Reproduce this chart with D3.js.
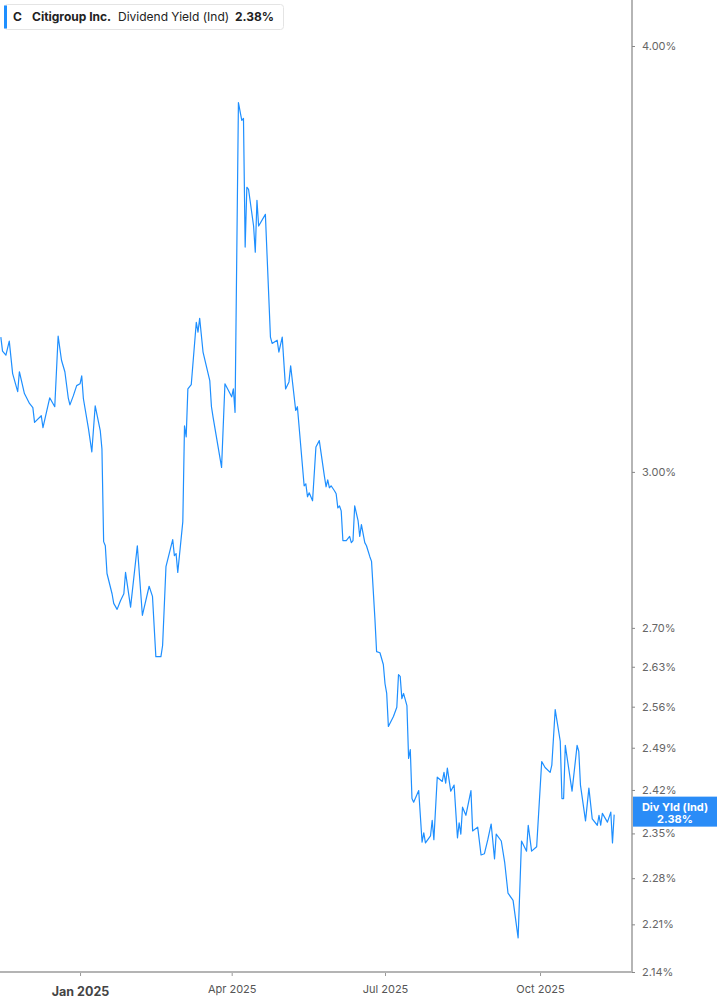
<!DOCTYPE html>
<html>
<head>
<meta charset="utf-8">
<script src="https://cdn.jsdelivr.net/npm/d3@7"></script>
<style>
body { margin:0; background:#fff; font-family: Inter, "Noto Sans", sans-serif; }
</style>
</head>
<body>
<div id="chart"></div>
<script>
// dates (trading days)
var dates = [
"2024-11-15","2024-11-16","2024-11-18","2024-11-20","2024-11-22","2024-11-25","2024-11-26","2024-11-29",
"2024-12-02","2024-12-04","2024-12-05","2024-12-09","2024-12-10","2024-12-14","2024-12-17","2024-12-19",
"2024-12-21","2024-12-23","2024-12-25","2024-12-26","2024-12-28","2024-12-30","2025-01-01","2025-01-02",
"2025-01-03","2025-01-06","2025-01-08","2025-01-10","2025-01-13","2025-01-14","2025-01-15","2025-01-16",
"2025-01-17","2025-01-20","2025-01-21","2025-01-23","2025-01-25","2025-01-27","2025-01-28","2025-01-31",
"2025-02-04","2025-02-07","2025-02-11","2025-02-13","2025-02-15","2025-02-18","2025-02-19","2025-02-21",
"2025-02-25","2025-02-26","2025-02-27","2025-02-28","2025-03-03","2025-03-04","2025-03-05","2025-03-06",
"2025-03-08","2025-03-11","2025-03-12","2025-03-13","2025-03-15","2025-03-19","2025-03-20","2025-03-21",
"2025-03-26","2025-03-28","2025-04-01","2025-04-02","2025-04-03","2025-04-05","2025-04-07","2025-04-08",
"2025-04-09","2025-04-10","2025-04-11","2025-04-14","2025-04-15","2025-04-16","2025-04-17","2025-04-21",
"2025-04-24","2025-04-25","2025-04-28","2025-04-29","2025-05-01","2025-05-03","2025-05-05","2025-05-06",
"2025-05-09","2025-05-10","2025-05-14","2025-05-15","2025-05-16","2025-05-17","2025-05-19","2025-05-21",
"2025-05-23","2025-05-26","2025-05-27","2025-05-28","2025-05-29","2025-05-30","2025-06-01","2025-06-02",
"2025-06-03","2025-06-04","2025-06-05","2025-06-06","2025-06-08","2025-06-10","2025-06-11","2025-06-12",
"2025-06-13","2025-06-15","2025-06-16","2025-06-17","2025-06-19","2025-06-20","2025-06-22","2025-06-23",
"2025-06-25","2025-06-26","2025-06-28","2025-06-30","2025-07-01","2025-07-02","2025-07-03","2025-07-06",
"2025-07-08","2025-07-09","2025-07-10","2025-07-11","2025-07-12","2025-07-14","2025-07-15","2025-07-16",
"2025-07-17","2025-07-18","2025-07-21","2025-07-23","2025-07-24","2025-07-25","2025-07-28","2025-07-29",
"2025-07-30","2025-08-01","2025-08-04","2025-08-05","2025-08-06","2025-08-07","2025-08-09","2025-08-11",
"2025-08-13","2025-08-14","2025-08-15","2025-08-16","2025-08-18","2025-08-21","2025-08-22","2025-08-25",
"2025-08-27","2025-08-29","2025-08-31","2025-09-02","2025-09-04","2025-09-05","2025-09-08","2025-09-10",
"2025-09-12","2025-09-15","2025-09-18","2025-09-20","2025-09-23","2025-09-24","2025-09-26","2025-09-29",
"2025-10-02","2025-10-04","2025-10-07","2025-10-08","2025-10-10","2025-10-13","2025-10-14","2025-10-15",
"2025-10-16","2025-10-20","2025-10-23","2025-10-24","2025-10-25","2025-10-28","2025-10-30","2025-11-01",
"2025-11-04","2025-11-05","2025-11-06","2025-11-07","2025-11-10","2025-11-12","2025-11-13","2025-11-14"
];

// dividend yield (%)
var yields = [
3.286,3.255,3.246,3.277,3.206,3.167,3.210,3.163,
3.142,3.133,3.102,3.116,3.091,3.154,3.135,3.288,
3.235,3.210,3.154,3.139,3.158,3.180,3.184,3.201,
3.152,3.089,3.041,3.137,3.085,3.047,2.862,2.854,
2.801,2.763,2.745,2.734,2.750,2.763,2.803,2.738,
2.854,2.723,2.777,2.758,2.648,2.648,2.668,2.814,
2.866,2.835,2.839,2.803,2.901,3.095,3.072,3.173,
3.182,3.319,3.297,3.328,3.253,3.191,3.135,3.112,
3.009,3.184,3.156,3.173,3.123,3.850,3.804,3.809,
3.492,3.636,3.631,3.542,3.480,3.604,3.542,3.570,
3.286,3.272,3.279,3.253,3.286,3.173,3.188,3.223,
3.127,3.135,2.972,2.976,2.950,2.958,2.942,3.051,
3.064,2.992,2.970,2.984,2.968,2.972,2.962,2.956,
2.928,2.932,2.922,2.864,2.864,2.872,2.860,2.864,
2.932,2.903,2.872,2.895,2.860,2.854,2.833,2.824,
2.717,2.657,2.655,2.634,2.600,2.583,2.526,2.543,
2.559,2.616,2.613,2.574,2.583,2.562,2.472,2.487,
2.406,2.400,2.419,2.336,2.351,2.335,2.346,2.371,
2.340,2.441,2.434,2.449,2.431,2.456,2.418,2.428,
2.343,2.367,2.349,2.392,2.379,2.419,2.354,2.360,
2.316,2.318,2.340,2.365,2.310,2.349,2.338,2.305,
2.257,2.246,2.190,2.338,2.322,2.363,2.322,2.329,
2.467,2.457,2.449,2.461,2.555,2.501,2.406,2.406,
2.494,2.418,2.494,2.484,2.428,2.370,2.423,2.373,
2.363,2.379,2.363,2.382,2.368,2.384,2.335,2.380
];

var yTicks = [4.00, 3.00, 2.70, 2.63, 2.56, 2.49, 2.42, 2.35, 2.28, 2.21, 2.14];
var xTickDates = ["2025-01-01", "2025-04-01", "2025-07-01", "2025-10-01"];
var xTickLabels = ["Jan 2025", "Apr 2025", "Jul 2025", "Oct 2025"];
var xDomain = ["2024-11-14 12:00", "2025-11-24 14:00"];
var yDomain = [2.14, 4.00];

var ticker = "C";
var company = "Citigroup Inc.";
var metric = "Dividend Yield (Ind)";
var lastLabel = "Div Yld (Ind)";

var w = 717, h = 1005;
var plotRight = 632, plotBottom = 972;
var blue = "#1e8fff";

var parseDay = d3.timeParse("%Y-%m-%d");
var parseTime = d3.timeParse("%Y-%m-%d %H:%M");

var data = dates.map(function(d, i) {
   return { date: parseDay(d), value: yields[i] };
});

var x = d3.scaleTime()
   .domain(xDomain.map(parseTime))
   .range([0, plotRight]);

var y = d3.scaleLog()
   .domain(yDomain)
   .range([plotBottom, 46]);

var svg = d3.select("#chart").append("svg")
   .attr("width", w)
   .attr("height", h);

//right axis
svg.append("line")
   .attr("x1", plotRight).attr("x2", plotRight)
   .attr("y1", 0).attr("y2", plotBottom)
   .attr("stroke", "#9c9c9c")
   .attr("stroke-width", 1.5);

var yAxis = d3.axisRight(y)
   .tickValues(yTicks)
   .tickFormat(function(d) { return d.toFixed(2) + "%"; })
   .tickSize(3)
   .tickPadding(7);

var gy = svg.append("g")
   .attr("transform", "translate(" + plotRight + ",0)")
   .call(yAxis);
gy.select(".domain").remove();
gy.selectAll(".tick line").attr("stroke", "#888");
gy.selectAll(".tick text")
   .attr("fill", "#666")
   .style("font-family", "Inter, sans-serif")
   .style("font-size", "11px");

//bottom axis
var xAxis = d3.axisBottom(x)
   .tickValues(xTickDates.map(parseDay))
   .tickFormat(function(d, i) { return xTickLabels[i]; })
   .tickSize(4)
   .tickPadding(9);

var gx = svg.append("g")
   .attr("transform", "translate(0," + plotBottom + ")")
   .call(xAxis);
gx.select(".domain").remove();
gx.append("line")
   .attr("x1", 0).attr("x2", plotRight)
   .attr("stroke", "#b4b4b4")
   .attr("stroke-width", 2);
gx.selectAll(".tick line").attr("stroke", "#999");
gx.selectAll(".tick text")
   .attr("fill", "#555")
   .style("font-family", "Inter, sans-serif")
   .style("font-size", "11px")
   .filter(function(d, i) { return i == 0; })
   .attr("fill", "#444")
   .attr("y", 15)
   .style("font-weight", "bold")
   .style("font-size", "12.5px");

//the line
var line = d3.line()
   .x(function(d) { return x(d.date); })
   .y(function(d) { return y(d.value); });

svg.append("path")
   .datum(data)
   .attr("fill", "none")
   .attr("stroke", blue)
   .attr("stroke-width", 1.2)
   .attr("stroke-linejoin", "round")
   .attr("d", line);

//last value tag on the axis
var last = data[data.length - 1];
var tag = svg.append("g")
   .attr("transform", "translate(" + (plotRight + 1) + "," + y(last.value) + ")");
tag.append("rect")
   .attr("x", 0).attr("y", -18)
   .attr("width", w - plotRight - 1).attr("height", 30)
   .attr("fill", "#2a8cf7");
tag.append("text")
   .attr("x", 42).attr("y", -4)
   .attr("text-anchor", "middle")
   .attr("fill", "#fff")
   .style("font-size", "11px")
   .style("font-weight", "bold")
   .text(lastLabel);
tag.append("text")
   .attr("x", 42).attr("y", 8)
   .attr("text-anchor", "middle")
   .attr("fill", "#fff")
   .style("font-size", "11px")
   .style("font-weight", "bold")
   .text(last.value.toFixed(2) + "%");

//legend box
var legend = svg.append("g");
legend.append("rect")
   .attr("x", 4.5).attr("y", 4.5)
   .attr("width", 279).attr("height", 25)
   .attr("rx", 3)
   .attr("fill", "#fff")
   .attr("stroke", "#e4e4e4");
legend.append("rect")
   .attr("x", 4).attr("y", 5.5)
   .attr("width", 3).attr("height", 23)
   .attr("fill", blue);

var legendItems = [
   { text: ticker, x: 13, bold: true },
   { text: company, x: 32, bold: true },
   { text: metric, x: 118, bold: false },
   { text: last.value.toFixed(2) + "%", x: 235, bold: true }
];
legend.selectAll("text.item")
   .data(legendItems)
   .enter()
   .append("text")
   .attr("class", "item")
   .attr("x", function(d) { return d.x; })
   .attr("y", 21)
   .attr("fill", "#222")
   .style("font-size", "12px")
   .style("font-weight", function(d) { return d.bold ? "bold" : "normal"; })
   .text(function(d) { return d.text; });
</script>
</body>
</html>
